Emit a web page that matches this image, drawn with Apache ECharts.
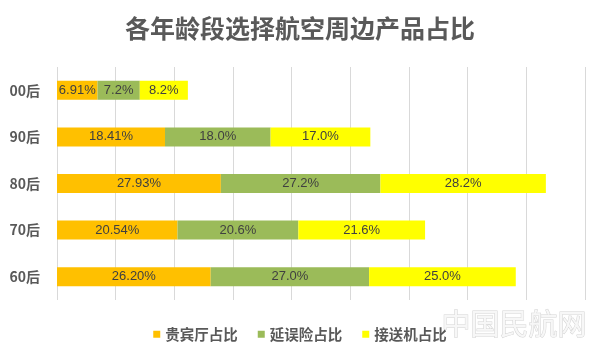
<!DOCTYPE html>
<html>
<head>
<meta charset="utf-8">
<script src="https://cdn.jsdelivr.net/npm/echarts@6/dist/echarts.min.js"></script>
<style>
  html, body { margin: 0; padding: 0; background: #fff; }
  #main { width: 600px; height: 353px; }
</style>
</head>
<body>
<div id="main"></div>
<script>
// 数据
var ageGroups = ['00后', '90后', '80后', '70后', '60后'];
var loungeShare = [6.91, 18.41, 27.93, 20.54, 26.20];   // 贵宾厅占比
var delayShare = [7.2, 18.0, 27.2, 20.6, 27.0];         // 延误险占比
var transferShare = [8.2, 17.0, 28.2, 21.6, 25.0];      // 接送机占比
var seriesNames = ['贵宾厅占比', '延误险占比', '接送机占比'];
var seriesColors = ['#FFC000', '#9BBB59', '#FFFF00'];
var decimals = [2, 1, 1];

var chart = echarts.init(document.getElementById('main'));

function makeSeries(idx, data) {
    return {
        name: seriesNames[idx],
        type: 'bar',
        stack: 'total',
        barWidth: 19,
        data: data,
        itemStyle: { color: seriesColors[idx] },
        label: {
            show: true,
            position: 'inside',
            color: '#404040',
            fontSize: 13,
            fontFamily: 'Liberation Sans',
            formatter: function (p) { return p.value.toFixed(decimals[idx]) + '%'; }
        }
    };
}

var option = {
    backgroundColor: '#fff',
    title: {
        text: '各年龄段选择航空周边产品占比',
        left: 'center',
        top: 11,
        textStyle: {
            color: '#595959',
            fontSize: 25,
            fontWeight: 'bold',
            fontFamily: 'Noto Sans CJK SC'
        }
    },
    legend: {
        data: seriesNames,
        left: 'center',
        top: 322,
        itemWidth: 7,
        itemHeight: 7,
        itemGap: 20,
        icon: 'rect',
        textStyle: {
            color: '#595959',
            fontSize: 14.5,
            fontWeight: 'bold',
            fontFamily: 'Noto Sans CJK SC'
        }
    },
    grid: {
        left: 57,
        right: 15,
        top: 67,
        bottom: 53
    },
    xAxis: {
        type: 'value',
        min: 0,
        max: 90,
        interval: 10,
        axisLabel: { show: false },
        axisLine: { show: false },
        axisTick: { show: false },
        splitLine: { lineStyle: { color: '#d9d9d9', width: 1 } }
    },
    yAxis: {
        type: 'category',
        data: ageGroups,
        inverse: true,
        axisLine: { show: false },
        axisTick: { show: false },
        axisLabel: {
            margin: 17,
            color: '#595959',
            fontSize: 14,
            fontWeight: 'bold',
            fontFamily: 'Noto Sans CJK SC'
        }
    },
    graphic: [{
        type: 'text',
        right: 13,
        top: 309,
        style: {
            text: '中国民航网',
            fontSize: 29,
            fontFamily: 'Noto Sans CJK SC',
            fill: '#f7f7f7',
            stroke: '#d4d4d4',
            lineWidth: 1
        }
    }],
    series: [
        makeSeries(0, loungeShare),
        makeSeries(1, delayShare),
        makeSeries(2, transferShare)
    ]
};
chart.setOption(option);
window.addEventListener('resize', function () { chart.resize(); });
</script>
</body>
</html>
